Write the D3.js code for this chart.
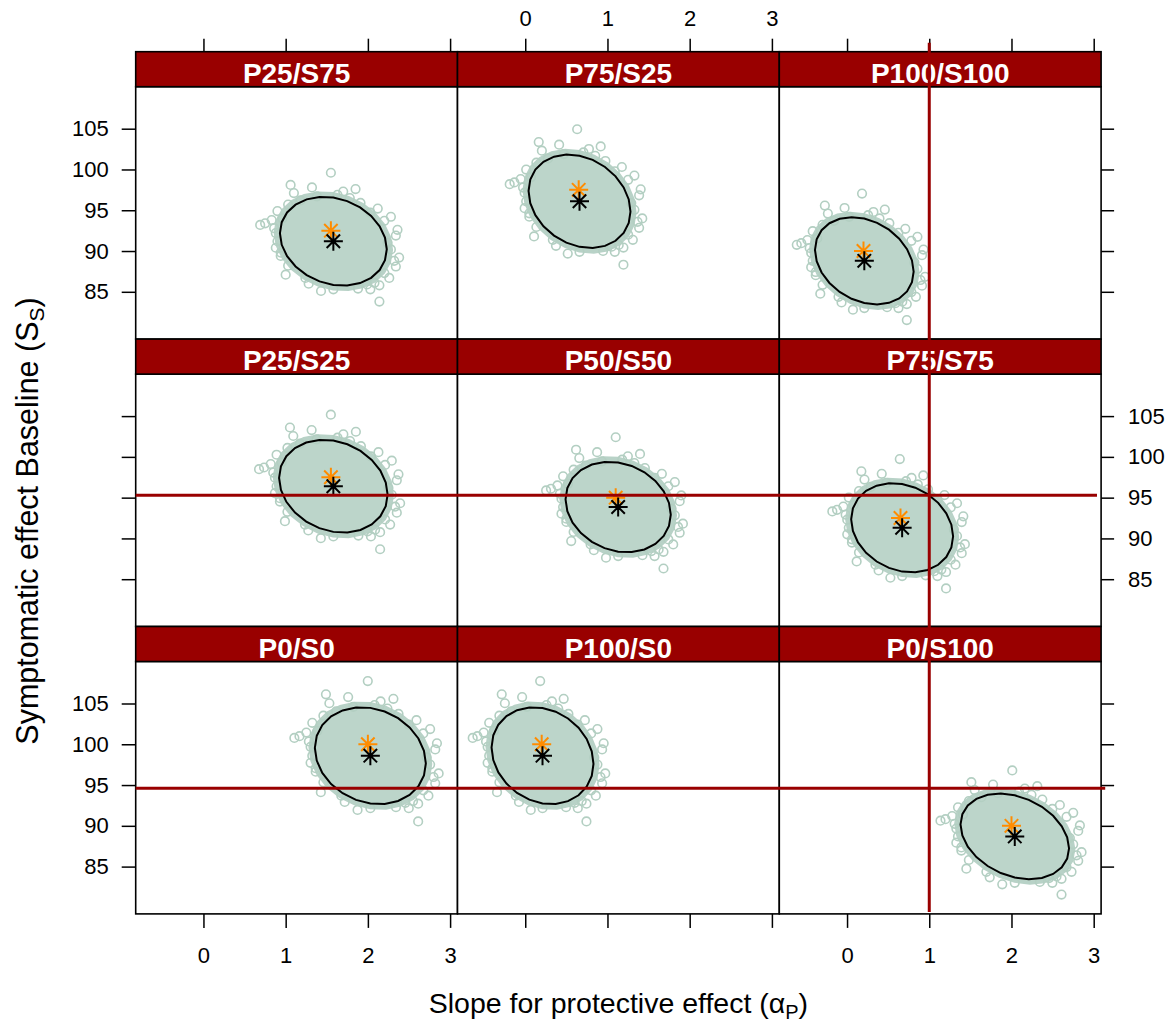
<!DOCTYPE html>
<html>
<head>
<meta charset="utf-8">
<script src="https://cdn.jsdelivr.net/npm/d3@7"></script>
<style>
  body { margin: 0; background: #fff; }
  svg { display: block; font-family: "Liberation Sans", Arial, sans-serif; }
</style>
</head>
<body>
<script>
// panels, top-left to bottom-right
const scenarios = ["P25/S75", "P75/S25", "P100/S100",
                   "P25/S25", "P50/S50", "P75/S75",
                   "P0/S0", "P100/S0", "P0/S100"];
// true values (orange stars)
const trueSlope = [1.55, 0.65, 0.2, 1.55, 1.1, 0.65, 2.0, 0.2, 2.0];
const trueBase  = [92.5, 97.5, 90, 97.5, 95, 92.5, 100, 100, 90];
// posterior means (black stars) = ellipse centres
const estSlope = [1.58, 0.66, 0.21, 1.58, 1.13, 0.67, 2.03, 0.21, 2.04];
const estBase  = [91.2, 96.1, 88.8, 96.4, 93.85, 91.3, 98.6, 98.6, 88.7];
// ellipse half-widths (slope), half-heights (baseline), correlation
const ellSlope = [0.65, 0.62, 0.60, 0.66, 0.64, 0.62, 0.675, 0.62, 0.66];
const ellBase  = [5.45, 5.73, 5.35, 5.69, 5.55, 5.47, 5.94, 5.94, 5.25];
const ellRho   = [-0.18, -0.22, -0.25, -0.18, -0.17, -0.19, -0.16, -0.17, -0.28];
// scattered draws outside the dense core, offsets from the centre (slope, baseline)
const drawOffsets = [
  [-0.03, 8.4], [-0.52, 6.9], [-0.26, 6.6], [0.27, 6.4], [-0.48, 5.9], [0.05, 5.7],
  [0.33, 4.7], [0.54, 4.0], [-0.68, 3.7], [-0.89, 2.0], [-0.83, 2.2], [-0.72, 1.6],
  [0.78, 1.4], [0.76, 0.7], [-0.68, 0], [0.66, -0.2], [-0.64, -1.4], [-0.64, -1.8],
  [0.74, -2.4], [0.76, -3.1], [-0.58, -4.1], [-0.34, -4.5], [0.62, -3.9], [0.5, -5.1],
  [0.41, -5.3], [-0.15, -6.1], [0.56, -5.4], [0.56, -7.4],
  [-0.4, 5.0], [-0.2, 5.5], [0.2, 5.3], [0.45, 3.5], [0.62, 2.5], [0.7, -1.0],
  [0.68, -4.5], [0.3, -5.8], [0.0, -5.9], [-0.3, -5.2], [-0.55, -3.0], [-0.7, -0.8],
  [-0.7, 1.0], [-0.62, 2.8], [-0.55, 4.5], [0.45, -5.9], [0.12, 6.1], [-0.75, 2.6],
  [0.7, 3.0], [0.8, -2.0]
];
const refHalfSlope = 0.65, refHalfBase = 5.45;

const xTicks = [0, 1, 2, 3];
const yTicks = [85, 90, 95, 100, 105];

// reference lines
const vLineSlope = 1;          // column 3
const hLines = [               // rows 2 and 3
  { row: 1, base: 95.3, end: 3.04 },
  { row: 2, base: 94.6, end: 3.14 }
];

const width = 1170, height = 1024;
const left = 135.7, colW = 321.8, top0 = 51.7, stripH = 35, panelH = 252.4;
const rowH = stripH + panelH;
const xDomain = [-0.824, 3.09], yDomain = [79.2, 110.15];
const red = "#990000";

const xScale = (col) => d3.scaleLinear().domain(xDomain).range([left + col * colW, left + (col + 1) * colW]);
const yScale = (row) => {
  const t = top0 + row * rowH + stripH;
  return d3.scaleLinear().domain(yDomain).range([t + panelH, t]);
};

const svg = d3.select("body").append("svg")
  .attr("width", width)
  .attr("height", height);

const ellipsePts = (cx, cy, hx, hy, rho, k) =>
  d3.range(24).map(j => {
    const t = (j / 24) * 2 * Math.PI;
    return [cx + k * hx * Math.cos(t),
            cy + k * hy * (rho * Math.cos(t) + Math.sqrt(1 - rho * rho) * Math.sin(t))];
  });

const star = (x, y, r) => {
  const a = r / Math.SQRT2;
  return `M${x - r},${y}H${x + r}M${x},${y - r}V${y + r}` +
         `M${x - a},${y - a}L${x + a},${y + a}M${x - a},${y + a}L${x + a},${y - a}`;
};

scenarios.forEach((name, i) => {
  const row = Math.floor(i / 3), col = i % 3;
  const x = xScale(col), y = yScale(row);
  const g = svg.append("g");
  const line = d3.line().x(d => x(d[0])).y(d => y(d[1])).curve(d3.curveLinearClosed);

  g.append("rect")
    .attr("x", x.range()[0]).attr("y", y.range()[1])
    .attr("width", colW).attr("height", panelH)
    .attr("fill", "#fff");

  // dense core of the draws
  g.append("path")
    .attr("d", line(ellipsePts(estSlope[i], estBase[i], ellSlope[i], ellBase[i], ellRho[i], 1.08)))
    .attr("fill", "#bcd5ca")
    .attr("stroke", "#b8d2c7")
    .attr("stroke-width", 4);

  g.append("g").selectAll("circle")
    .data(drawOffsets)
    .join("circle")
    .attr("cx", d => x(estSlope[i] + d[0] * ellSlope[i] / refHalfSlope))
    .attr("cy", d => y(estBase[i] + d[1] * ellBase[i] / refHalfBase))
    .attr("r", 4.3)
    .attr("fill", "none")
    .attr("stroke", "#b3cfc2")
    .attr("stroke-width", 1.6);

  g.append("path")
    .attr("d", line(ellipsePts(estSlope[i], estBase[i], ellSlope[i], ellBase[i], ellRho[i], 1)))
    .attr("fill", "none")
    .attr("stroke", "#000")
    .attr("stroke-width", 2);

  g.append("path")
    .attr("d", star(x(trueSlope[i]), y(trueBase[i]), 9.5))
    .attr("stroke", "#ff8c00").attr("stroke-width", 2).attr("fill", "none");
  g.append("path")
    .attr("d", star(x(estSlope[i]), y(estBase[i]), 9.5))
    .attr("stroke", "#000").attr("stroke-width", 2).attr("fill", "none");

  g.append("rect")
    .attr("x", x.range()[0]).attr("y", y.range()[1])
    .attr("width", colW).attr("height", panelH)
    .attr("fill", "none").attr("stroke", "#000").attr("stroke-width", 1.6);

  // strip
  const sTop = top0 + row * rowH;
  g.append("rect")
    .attr("x", x.range()[0]).attr("y", sTop)
    .attr("width", colW).attr("height", stripH)
    .attr("fill", red).attr("stroke", "#000").attr("stroke-width", 1.6);
  g.append("text")
    .attr("x", x.range()[0] + colW / 2).attr("y", sTop + 31)
    .attr("text-anchor", "middle")
    .attr("fill", "#fff")
    .attr("font-weight", "bold")
    .attr("font-size", 28)
    .text(name);
});

// axes, alternating labels as in lattice
const styleAxis = (g, showLabels) => {
  g.select(".domain").remove();
  g.attr("font-family", null).attr("font-size", 22);
  g.selectAll(".tick line").attr("stroke", "#000").attr("stroke-width", 1.5);
  g.selectAll(".tick text").attr("fill", "#000").attr("opacity", showLabels ? 1 : 0);
};
const fmt = d3.format("d");

const bottomY = top0 + 3 * rowH;
[0, 1, 2].forEach(col => {
  svg.append("g")
    .attr("transform", `translate(0,${bottomY})`)
    .call(d3.axisBottom(xScale(col)).tickValues(xTicks).tickFormat(fmt).tickSize(14).tickPadding(19).tickSizeOuter(0))
    .call(g => styleAxis(g, col !== 1));
  svg.append("g")
    .attr("transform", `translate(0,${top0})`)
    .call(d3.axisTop(xScale(col)).tickValues(xTicks).tickFormat(fmt).tickSize(13).tickPadding(13).tickSizeOuter(0))
    .call(g => styleAxis(g, col === 1));
});
[0, 1, 2].forEach(row => {
  svg.append("g")
    .attr("transform", `translate(${left},0)`)
    .call(d3.axisLeft(yScale(row)).tickValues(yTicks).tickFormat(fmt).tickSize(14).tickPadding(13).tickSizeOuter(0))
    .call(g => styleAxis(g, row !== 1));
  svg.append("g")
    .attr("transform", `translate(${left + 3 * colW},0)`)
    .call(d3.axisRight(yScale(row)).tickValues(yTicks).tickFormat(fmt).tickSize(13).tickPadding(14).tickSizeOuter(0))
    .call(g => styleAxis(g, row === 1));
});

// reference lines, drawn over everything
const x3 = xScale(2);
svg.append("line")
  .attr("x1", x3(vLineSlope)).attr("x2", x3(vLineSlope))
  .attr("y1", top0 - 9).attr("y2", bottomY - 2)
  .attr("stroke", red).attr("stroke-width", 3);
hLines.forEach(h => {
  const y = yScale(h.row);
  svg.append("line")
    .attr("x1", xScale(0)(xDomain[0])).attr("x2", x3(h.end))
    .attr("y1", y(h.base)).attr("y2", y(h.base))
    .attr("stroke", red).attr("stroke-width", 3);
});

// axis titles
const xt = svg.append("text")
  .attr("x", left + 1.5 * colW).attr("y", 1013)
  .attr("text-anchor", "middle")
  .attr("font-size", 28.5);
xt.append("tspan").text("Slope for protective effect (\u03b1");
xt.append("tspan").attr("font-size", 20).attr("dy", 6).text("P");
xt.append("tspan").attr("dy", -6).text(")");

const yt = svg.append("text")
  .attr("transform", "translate(38,521) rotate(-90)")
  .attr("text-anchor", "middle")
  .attr("font-size", 30.5);
yt.append("tspan").text("Symptomatic effect Baseline (S");
yt.append("tspan").attr("font-size", 21).attr("dy", 6).text("S");
yt.append("tspan").attr("dy", -6).text(")");
</script>
</body>
</html>
